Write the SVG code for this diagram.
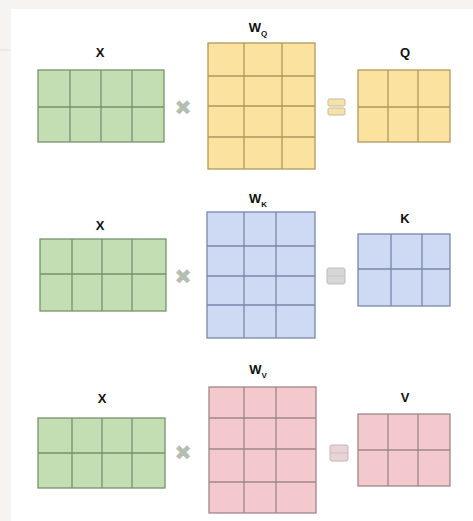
<svg xmlns="http://www.w3.org/2000/svg" width="473" height="521" viewBox="0 0 473 521">
<style>
.lbl{font-family:"Liberation Sans",Arial,sans-serif;font-weight:bold;font-size:13px;fill:#111;text-anchor:middle}
.sub{font-family:"Liberation Sans",Arial,sans-serif;font-weight:bold;font-size:8px;fill:#111}
.g{fill:#c3deb3;stroke:#76926a;stroke-width:1.3}
.y{fill:#fbe39f;stroke:#b09860;stroke-width:1.3}
.b{fill:#cedaf4;stroke:#7888aa;stroke-width:1.3}
.p{fill:#f3c9ce;stroke:#a0868a;stroke-width:1.3}
.op{font-family:"DejaVu Sans",sans-serif;font-weight:bold;font-size:21px;fill:#b4bfb2;text-anchor:middle}
</style>
<rect width="473" height="521" fill="#ffffff"/>
<rect width="473" height="9" fill="#f6f3f0"/>
<rect width="11" height="521" fill="#f6f3f0"/>
<line x1="0" y1="50" x2="11" y2="50" stroke="#e4e0dc" stroke-width="1"/>

<!-- Row 1 -->
<g id="x1">
<text class="lbl" x="100" y="57">X</text>
<rect class="g" x="38" y="70" width="126" height="72"/>
<path class="g" d="M70 70V142M101 70V142M132 70V142M38 107H164" fill="none"/>
</g>
<g id="op1"><text class="op" x="183" y="115">✖</text></g>
<g id="wq">
<text class="lbl" x="258" y="32">W<tspan class="sub" dy="4">Q</tspan></text>
<rect class="y" x="208" y="43" width="107" height="126"/>
<path class="y" d="M244 43V169M282 43V169M208 76H315M208 106H315M208 137H315" fill="none"/>
</g>
<g id="eq1"><rect x="328" y="99" width="17" height="7" rx="1.5" fill="#f4e2a8" stroke="#c3bb9c"/><rect x="328" y="108" width="17" height="7" rx="1.5" fill="#f4e2a8" stroke="#c3bb9c"/></g>
<g id="q">
<text class="lbl" x="405" y="57">Q</text>
<rect class="y" x="358" y="70" width="92" height="72"/>
<path class="y" d="M388 70V142M418 70V142M358 107H450" fill="none"/>
</g>

<!-- Row 2 -->
<g id="x2">
<text class="lbl" x="100" y="230">X</text>
<rect class="g" x="40" y="239" width="126" height="72"/>
<path class="g" d="M72 239V311M102 239V311M132 239V311M40 274H166" fill="none"/>
</g>
<g id="op2"><text class="op" x="183" y="284">✖</text></g>
<g id="wk">
<text class="lbl" x="258" y="203">W<tspan class="sub" dy="4">K</tspan></text>
<rect class="b" x="207" y="212" width="108" height="126"/>
<path class="b" d="M244 212V338M276 212V338M207 246H315M207 276H315M207 305H315" fill="none"/>
</g>
<g id="eq2"><rect x="327" y="268" width="18" height="16" rx="2" fill="#d6d6d6" stroke="#bdbdbd"/><line x1="327" y1="276" x2="345" y2="276" stroke="#c4c4c4"/></g>
<g id="k">
<text class="lbl" x="405" y="223">K</text>
<rect class="b" x="358" y="234" width="92" height="72"/>
<path class="b" d="M391 234V306M422 234V306M358 269H450" fill="none"/>
</g>

<!-- Row 3 -->
<g id="x3">
<text class="lbl" x="102" y="403">X</text>
<rect class="g" x="38" y="418" width="127" height="70"/>
<path class="g" d="M72 418V488M102 418V488M132 418V488M38 453H165" fill="none"/>
</g>
<g id="op3"><text class="op" x="183" y="460">✖</text></g>
<g id="wv">
<text class="lbl" x="258" y="374">W<tspan class="sub" dy="4">V</tspan></text>
<rect class="p" x="209" y="387" width="107" height="126"/>
<path class="p" d="M244 387V513M276 387V513M209 418H316M209 449H316M209 482H316" fill="none"/>
</g>
<g id="eq3"><rect x="330" y="445" width="18" height="16" rx="2" fill="#e8d3d6" stroke="#c4b5b7"/><line x1="330" y1="453" x2="348" y2="453" stroke="#cdbfc1"/></g>
<g id="v">
<text class="lbl" x="405" y="402">V</text>
<rect class="p" x="358" y="414" width="92" height="72"/>
<path class="p" d="M388 414V486M418 414V486M358 450H450" fill="none"/>
</g>
</svg>
